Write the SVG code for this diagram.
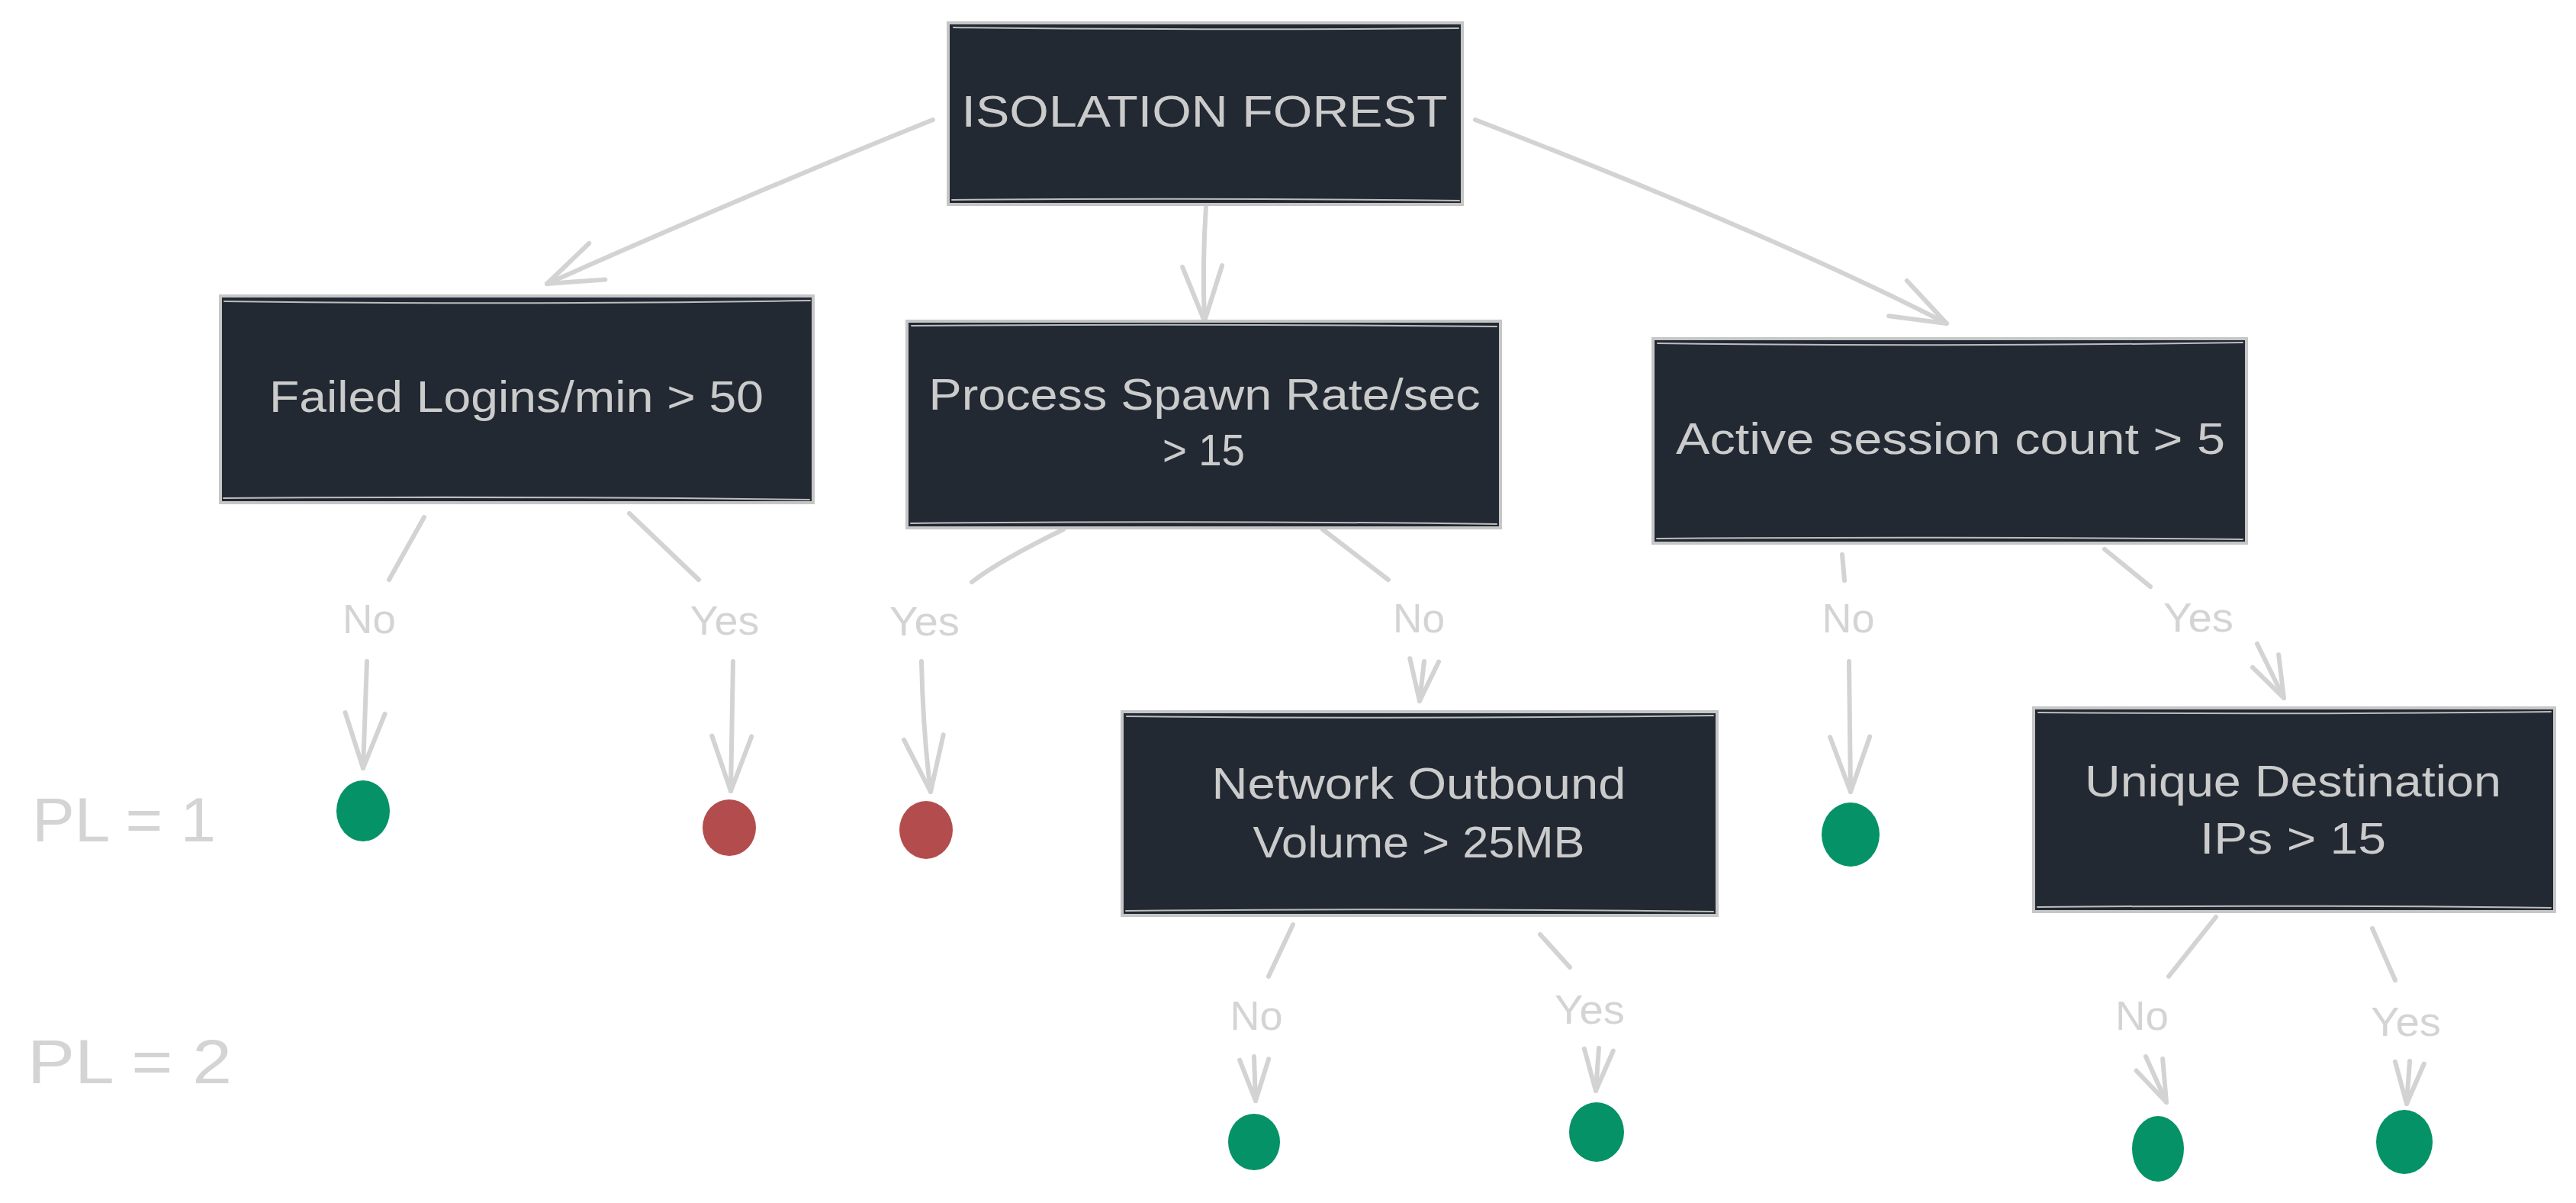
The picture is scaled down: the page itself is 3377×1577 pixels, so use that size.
<svg xmlns="http://www.w3.org/2000/svg" width="3377" height="1577" viewBox="0 0 3377 1577">
<style>
.box{fill:#222933;stroke:#c6c6c6;stroke-width:4}
.sk{fill:none;stroke:#bdbdbd;stroke-width:2;stroke-linecap:round}
.bt{font-family:"Liberation Sans",Arial,sans-serif;font-size:58px;fill:#cbcbcb;text-anchor:middle}
.lb{font-family:"Liberation Sans",Arial,sans-serif;font-size:54px;fill:#d4d4d4;text-anchor:middle}
.pl{font-family:"Liberation Sans",Arial,sans-serif;font-size:82px;fill:#d4d4d4}
.cn{fill:none;stroke:#d3d3d3;stroke-width:6;stroke-linecap:round;stroke-linejoin:round}
.arr{marker-end:url(#ah)}
.arrs{marker-end:url(#ahs)}
.g{fill:#059267}
.r{fill:#b34d4d}
</style>
<defs>
<marker id="ah" markerUnits="userSpaceOnUse" viewBox="-80 -40 90 80" refX="0" refY="0" markerWidth="90" markerHeight="80" orient="auto" overflow="visible">
<path d="M-72,-26 L0,0 L-72,26" fill="none" stroke="#d3d3d3" stroke-width="6" stroke-linecap="round" stroke-linejoin="round"/>
</marker>
<marker id="ahs" markerUnits="userSpaceOnUse" viewBox="-80 -40 90 80" refX="0" refY="0" markerWidth="90" markerHeight="80" orient="auto" overflow="visible">
<path d="M-54,-19 L0,0 L-54,19" fill="none" stroke="#d3d3d3" stroke-width="6" stroke-linecap="round" stroke-linejoin="round"/>
</marker>
</defs>
<rect width="3377" height="1577" fill="#ffffff"/>

<g id="connectors">
<path class="cn arr" d="M1223,157 Q980,255 717,372"/>
<path class="cn arr" d="M1581,271 Q1576,345 1579,421"/>
<path class="cn arr" d="M1934,157 Q2330,310 2552,424"/>

<path class="cn" d="M556,678 L510,760"/>
<path class="cn arr" d="M481,867 L476,1007"/>
<path class="cn" d="M825,673 L916,760"/>
<path class="cn arr" d="M961,867 L958,1037"/>

<path class="cn" d="M1394,694 Q1310,735 1274,763"/>
<path class="cn arr" d="M1208,867 Q1210,960 1220,1038"/>
<path class="cn" d="M1734,694 L1820,760"/>
<path class="cn arrs" d="M1867,867 L1861,919"/>

<path class="cn" d="M2415,727 L2418,761"/>
<path class="cn arr" d="M2424,867 L2426,1038"/>
<path class="cn" d="M2759,720 L2819,769"/>
<path class="cn arrs" d="M2959,844 L2994,915"/>

<path class="cn" d="M1695,1212 L1663,1280"/>
<path class="cn arrs" d="M1644,1385 L1646,1443"/>
<path class="cn" d="M2019,1225 L2058,1268"/>
<path class="cn arrs" d="M2096,1374 L2092,1430"/>

<path class="cn" d="M2905,1202 L2843,1280"/>
<path class="cn arrs" d="M2813,1385 L2840,1445"/>
<path class="cn" d="M3110,1217 L3140,1285"/>
<path class="cn arrs" d="M3159,1391 L3155,1447"/>

<g id="edge-labels">
<text class="lb" x="484" y="830" textLength="70" lengthAdjust="spacingAndGlyphs">No</text>
<text class="lb" x="950" y="832" textLength="91" lengthAdjust="spacingAndGlyphs">Yes</text>
<text class="lb" x="1212" y="833" textLength="92" lengthAdjust="spacingAndGlyphs">Yes</text>
<text class="lb" x="1860" y="829" textLength="68" lengthAdjust="spacingAndGlyphs">No</text>
<text class="lb" x="2423" y="829" textLength="69" lengthAdjust="spacingAndGlyphs">No</text>
<text class="lb" x="2882" y="828" textLength="92" lengthAdjust="spacingAndGlyphs">Yes</text>
<text class="lb" x="1647" y="1350" textLength="69" lengthAdjust="spacingAndGlyphs">No</text>
<text class="lb" x="2084" y="1342" textLength="92" lengthAdjust="spacingAndGlyphs">Yes</text>
<text class="lb" x="2808" y="1350" textLength="70" lengthAdjust="spacingAndGlyphs">No</text>
<text class="lb" x="3154" y="1358" textLength="92" lengthAdjust="spacingAndGlyphs">Yes</text>
</g>
</g>

<g id="root">
<rect class="box" x="1243" y="30" width="674" height="238"/>
<path class="sk" d="M1250,36 Q1580,40 1912,37 M1248,262 Q1580,259 1913,263"/>
<text class="bt" x="1579" y="166" textLength="637" lengthAdjust="spacingAndGlyphs">ISOLATION FOREST</text>
</g>

<g id="failed-logins">
<rect class="box" x="289" y="388" width="777" height="271"/>
<path class="sk" d="M294,395 Q680,400 1062,394 M293,653 Q680,650 1061,655"/>
<text class="bt" x="677" y="540" textLength="648" lengthAdjust="spacingAndGlyphs">Failed Logins/min &gt; 50</text>
</g>

<g id="process-spawn">
<rect class="box" x="1189" y="421" width="778" height="271"/>
<path class="sk" d="M1195,427 Q1580,424 1962,428 M1194,686 Q1580,682 1962,687"/>
<text class="bt" x="1579" y="537" textLength="723" lengthAdjust="spacingAndGlyphs">Process Spawn Rate/sec</text>
<text class="bt" x="1578" y="610" textLength="108" lengthAdjust="spacingAndGlyphs">&gt; 15</text>
</g>

<g id="active-session">
<rect class="box" x="2167" y="444" width="778" height="268"/>
<path class="sk" d="M2173,450 Q2556,455 2940,449 M2172,706 Q2556,703 2940,707"/>
<text class="bt" x="2557" y="595" textLength="720" lengthAdjust="spacingAndGlyphs">Active session count &gt; 5</text>
</g>

<g id="network-outbound">
<rect class="box" x="1471" y="933" width="780" height="267"/>
<path class="sk" d="M1477,939 Q1860,943 2246,938 M1476,1194 Q1860,1190 2246,1195"/>
<text class="bt" x="1860" y="1047" textLength="543" lengthAdjust="spacingAndGlyphs">Network Outbound</text>
<text class="bt" x="1860" y="1124" textLength="435" lengthAdjust="spacingAndGlyphs">Volume &gt; 25MB</text>
</g>

<g id="unique-destination">
<rect class="box" x="2666" y="928" width="683" height="267"/>
<path class="sk" d="M2672,934 Q3006,937 3344,933 M2671,1189 Q3006,1186 3344,1190"/>
<text class="bt" x="3006" y="1044" textLength="546" lengthAdjust="spacingAndGlyphs">Unique Destination</text>
<text class="bt" x="3006" y="1119" textLength="244" lengthAdjust="spacingAndGlyphs">IPs &gt; 15</text>
</g>

<g id="leaf-failed-no"><ellipse class="g" cx="476" cy="1063" rx="35" ry="40"/></g>
<g id="leaf-failed-yes"><ellipse class="r" cx="956" cy="1085" rx="35" ry="37"/></g>
<g id="leaf-process-yes"><ellipse class="r" cx="1214" cy="1088" rx="35" ry="38"/></g>
<g id="leaf-active-no"><ellipse class="g" cx="2426" cy="1094" rx="38" ry="42"/></g>
<g id="leaf-network-no"><ellipse class="g" cx="1644" cy="1497" rx="34" ry="37"/></g>
<g id="leaf-network-yes"><ellipse class="g" cx="2093" cy="1484" rx="36" ry="39"/></g>
<g id="leaf-unique-no"><ellipse class="g" cx="2829" cy="1506" rx="34" ry="43"/></g>
<g id="leaf-unique-yes"><ellipse class="g" cx="3152" cy="1497" rx="37" ry="42"/></g>

<g id="path-length-labels">
<text class="pl" x="42" y="1103" textLength="241" lengthAdjust="spacingAndGlyphs">PL = 1</text>
<text class="pl" x="36" y="1420" textLength="268" lengthAdjust="spacingAndGlyphs">PL = 2</text>
</g>
</svg>
